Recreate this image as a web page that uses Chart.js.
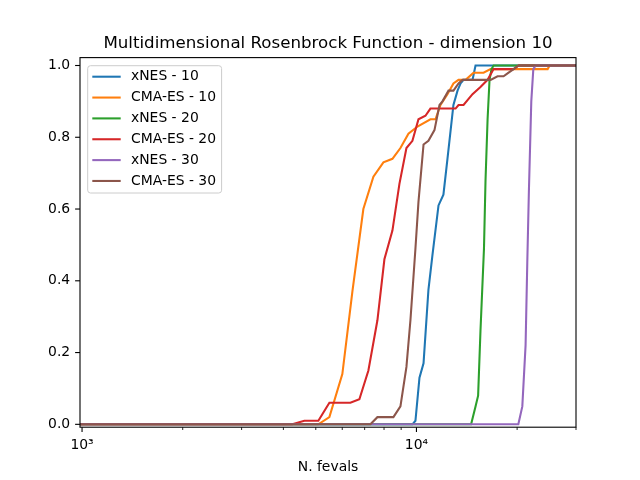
<!DOCTYPE html>
<html><head><meta charset="utf-8">
<script src="https://cdn.jsdelivr.net/npm/chart.js@4/dist/chart.umd.min.js"></script>
<style>html,body{margin:0;padding:0;background:#fff}</style>
</head><body>
<canvas id="c" width="640" height="480"></canvas>
<script>
const FONT = "'DejaVu Sans', sans-serif";
const TITLE = "Multidimensional Rosenbrock Function - dimension 10";
const X_LABEL = "N. fevals";
const seriesNames = ["xNES - 10", "CMA-ES - 10", "xNES - 20", "CMA-ES - 20", "xNES - 30", "CMA-ES - 30"];
const seriesColors = ["#1f77b4", "#ff7f0e", "#2ca02c", "#d62728", "#9467bd", "#8c564b"];

const xNES10_x = [986, 9727, 9931, 10210, 10500, 10860, 11160, 11640, 12040, 12380, 12900, 13270, 13550, 13830, 14710, 15020, 30000];
const xNES10_y = [0, 0, 0.01, 0.13, 0.17, 0.375, 0.47, 0.61, 0.64, 0.74, 0.89, 0.93, 0.95, 0.96, 0.96, 1.0, 1.0];

const cma10_x = [986, 5089, 5491, 6003, 6433, 6938, 7435, 7965, 8475, 8956, 9463, 10070, 11010, 11400, 11800, 12380, 12900, 13360, 14030, 14810, 15870, 16660, 24680, 25020, 30000];
const cma10_y = [0, 0, 0.02, 0.14, 0.37, 0.60, 0.69, 0.73, 0.74, 0.77, 0.81, 0.83, 0.85, 0.85, 0.89, 0.92, 0.95, 0.96, 0.96, 0.98, 0.98, 0.99, 0.99, 1.0, 1.0];

const xNES20_x = [986, 14570, 15020, 15290, 15540, 15920, 16090, 16320, 16540, 16770, 17010, 30000];
const xNES20_y = [0, 0, 0.05, 0.08, 0.26, 0.49, 0.68, 0.85, 0.96, 0.99, 1.0, 1.0];

const cma20_x = [986, 4254, 4621, 5089, 5491, 6345, 6751, 7183, 7643, 8020, 8475, 8894, 9334, 9727, 10140, 10640, 11010, 13090, 13360, 13830, 14710, 15540, 16320, 17010, 19520, 20210, 30000];
const cma20_y = [0, 0, 0.01, 0.01, 0.06, 0.06, 0.07, 0.15, 0.29, 0.46, 0.54, 0.67, 0.77, 0.79, 0.85, 0.86, 0.88, 0.88, 0.89, 0.89, 0.92, 0.94, 0.96, 0.99, 0.99, 1.0, 1.0];

const xNES30_x = [986, 20170, 20730, 21200, 21450, 21690, 22050, 22360, 22720, 30000];
const xNES30_y = [0, 0, 0.05, 0.22, 0.45, 0.65, 0.90, 0.99, 1.0, 1.0];

const cma30_x = [986, 7283, 7643, 8533, 8956, 9334, 9594, 9931, 10140, 10500, 10860, 11320, 11720, 11960, 12470, 12900, 13360, 13740, 16660, 17480, 18220, 18860, 19520, 20210, 30000];
const cma30_y = [0, 0, 0.02, 0.02, 0.05, 0.16, 0.29, 0.49, 0.62, 0.78, 0.79, 0.82, 0.89, 0.90, 0.93, 0.93, 0.95, 0.96, 0.96, 0.97, 0.97, 0.98, 0.99, 1.0, 1.0];

const xMajorTicks = [1000, 10000];
const xMajorLabels = ["10\u00B3", "10\u2074"];
const xMinorTicks = [2000, 3000, 4000, 5000, 6000, 7000, 8000, 9000, 20000, 30000];
const yTicks = [0.0, 0.2, 0.4, 0.6, 0.8, 1.0];

const X_MIN = 986, X_MAX = 30000, Y_MIN = -0.008, Y_MAX = 1.022;

const allX = [xNES10_x, cma10_x, xNES20_x, cma20_x, xNES30_x, cma30_x];
const allY = [xNES10_y, cma10_y, xNES20_y, cma20_y, xNES30_y, cma30_y];

const datasets = seriesNames.map((name, i) => ({
  label: name,
  data: allX[i].map((x, j) => ({x: x, y: allY[i][j]})),
  borderColor: seriesColors[i],
  backgroundColor: seriesColors[i],
  borderWidth: 2.08,
  pointRadius: 0,
  tension: 0,
  fill: false,
  order: seriesNames.length - i
}));

const decor = {
  id: 'decor',
  afterDatasetsDraw(chart) {
    const ctx = chart.ctx, a = chart.chartArea;
    const xs = chart.scales.x, ys = chart.scales.y;
    ctx.save();
    ctx.strokeStyle = '#000';
    ctx.lineWidth = 1.1;
    ctx.strokeRect(a.left, a.top, a.right - a.left, a.bottom - a.top);
    ctx.lineWidth = 1.1;
    xMajorTicks.forEach(v => {
      const px = xs.getPixelForValue(v);
      ctx.beginPath(); ctx.moveTo(px, a.bottom); ctx.lineTo(px, a.bottom + 4.9); ctx.stroke();
    });
    ctx.lineWidth = 0.85;
    xMinorTicks.forEach(v => {
      const px = xs.getPixelForValue(v);
      ctx.beginPath(); ctx.moveTo(px, a.bottom); ctx.lineTo(px, a.bottom + 2.8); ctx.stroke();
    });
    ctx.lineWidth = 1.1;
    yTicks.forEach(v => {
      const py = ys.getPixelForValue(v);
      ctx.beginPath(); ctx.moveTo(a.left, py); ctx.lineTo(a.left - 4.9, py); ctx.stroke();
    });
    // legend
    ctx.font = "13.9px " + FONT;
    let maxW = 0;
    seriesNames.forEach(n => { maxW = Math.max(maxW, ctx.measureText(n).width); });
    const bx = a.left + 7.7, by = a.top + 8.1;
    const bw = 43.3 + maxW + 5.6, bh = 127.3;
    const r = 2.8;
    ctx.beginPath();
    ctx.moveTo(bx + r, by);
    ctx.lineTo(bx + bw - r, by); ctx.quadraticCurveTo(bx + bw, by, bx + bw, by + r);
    ctx.lineTo(bx + bw, by + bh - r); ctx.quadraticCurveTo(bx + bw, by + bh, bx + bw - r, by + bh);
    ctx.lineTo(bx + r, by + bh); ctx.quadraticCurveTo(bx, by + bh, bx, by + bh - r);
    ctx.lineTo(bx, by + r); ctx.quadraticCurveTo(bx, by, bx + r, by);
    ctx.closePath();
    ctx.fillStyle = 'rgba(255,255,255,0.8)';
    ctx.fill();
    ctx.strokeStyle = '#cccccc';
    ctx.lineWidth = 1;
    ctx.stroke();
    ctx.textBaseline = 'middle';
    ctx.textAlign = 'left';
    seriesNames.forEach((n, i) => {
      const cy = by + 11 + i * 20.85;
      ctx.strokeStyle = seriesColors[i];
      ctx.lineWidth = 2.08;
      ctx.beginPath(); ctx.moveTo(bx + 4.6, cy); ctx.lineTo(bx + 33, cy); ctx.stroke();
      ctx.fillStyle = '#000';
      ctx.fillText(n, bx + 43.3, cy);
    });
    ctx.restore();
  }
};

new Chart(document.getElementById('c'), {
  type: 'line',
  data: { datasets: datasets },
  options: {
    responsive: false,
    animation: false,
    devicePixelRatio: 1,
    layout: { padding: { left: 0, right: 64, top: 0, bottom: 0 } },
    plugins: {
      legend: { display: false },
      tooltip: { enabled: false },
      title: {
        display: true, text: TITLE, fullSize: false, color: '#000',
        font: { family: FONT, size: 16.67, weight: 'normal', lineHeight: 1.2 },
        padding: { top: 33.5, bottom: 4.1 }
      }
    },
    scales: {
      x: {
        type: 'logarithmic', min: X_MIN, max: X_MAX,
        grid: { display: false, drawTicks: false },
        border: { display: false },
        afterBuildTicks(s) { s.ticks = xMajorTicks.map(v => ({ value: v, major: true })); },
        afterFit(s) { s.height = 52.8; },
        ticks: {
          autoSkip: false, maxRotation: 0, padding: 9.8, color: '#000',
          font: { family: FONT, size: 13.9 },
          callback(v) { const k = xMajorTicks.indexOf(v); return k >= 0 ? xMajorLabels[k] : ''; }
        },
        title: {
          display: true, text: X_LABEL, color: '#000',
          font: { family: FONT, size: 13.9, lineHeight: 1.2 },
          padding: { top: 0, bottom: 4.7 }
        }
      },
      y: {
        min: Y_MIN, max: Y_MAX,
        grid: { display: false, drawTicks: false },
        border: { display: false },
        afterBuildTicks(s) { s.ticks = yTicks.map(v => ({ value: v })); },
        afterFit(s) { s.width = 80; },
        ticks: {
          padding: 9.8, color: '#000',
          font: { family: FONT, size: 13.9 },
          callback(v) { return Number(v).toFixed(1); }
        }
      }
    }
  },
  plugins: [decor]
});
</script>
</body></html>
